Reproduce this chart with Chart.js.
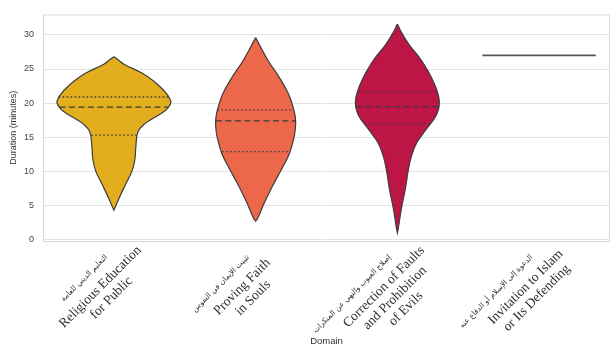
<!DOCTYPE html>
<html>
<head>
<meta charset="utf-8">
<script src="https://cdn.jsdelivr.net/npm/chart.js@4.4.1/dist/chart.umd.min.js"></script>
<style>
  html, body { margin: 0; padding: 0; background: #fff; }
</style>
</head>
<body>
<canvas id="chart" width="611" height="347"></canvas>
<script>
// categories (English lines + Arabic title above them)
const englishLines = [
  ['Religious Education', 'for Public'],
  ['Proving Faith', 'in Souls'],
  ['Correction of Faults', 'and Prohibition', 'of Evils'],
  ['Invitation to Islam', 'or Its Defending']
];
const arabicLabels = [
  'التعليم الديني للعامة',
  'تثبيت الإيمان في النفوس',
  'إصلاح العيوب والنهي عن المنكرات',
  'الدعوة إلى الإسلام أو الدفاع عنه'
];
const yTicks = [0, 5, 10, 15, 20, 25, 30];

// violin outlines: duration values and half widths (category units)
const eduY = [26.8, 26.4, 25.7, 24.4, 23.2, 22.0, 21.2, 20.6, 20.1, 19.5, 18.8, 18.0, 17.0, 15.8, 13.6, 11.7, 10.0, 7.9, 6.0, 4.3];
const eduW = [0, 0.028, 0.071, 0.198, 0.282, 0.346, 0.378, 0.395, 0.402, 0.388, 0.356, 0.296, 0.219, 0.170, 0.155, 0.148, 0.127, 0.078, 0.035, 0];
const faithY = [29.6, 28.5, 26.1, 23.7, 21.3, 18.9, 17.5, 16.2, 15.1, 12.7, 10.3, 7.9, 5.5, 3.1, 2.7];
const faithW = [0, 0.028, 0.092, 0.169, 0.233, 0.271, 0.282, 0.280, 0.272, 0.240, 0.183, 0.120, 0.064, 0.014, 0];
const faultsY = [31.6, 30.4, 28.5, 26.5, 24.6, 22.7, 21.3, 20.2, 19.1, 17.9, 16.0, 14.1, 12.2, 10.3, 7.4, 4.5, 1.7, 1.0];
const faultsW = [0, 0.028, 0.085, 0.162, 0.219, 0.264, 0.287, 0.296, 0.290, 0.266, 0.198, 0.134, 0.099, 0.078, 0.056, 0.028, 0.007, 0];
const inviteValue = 27.0;
const inviteW = 0.4;

// quartiles (q1, median, q3) and the violin half width at each
const eduQ = [15.3, 19.4, 20.9];
const eduQW = [0.160, 0.384, 0.390];
const faithQ = [12.9, 17.4, 19.0];
const faithQW = [0.237, 0.280, 0.270];
const faultsQ = [17.0, 19.5, 21.7];
const faultsQW = [0.233, 0.291, 0.279];

const colors = ['#e2ae1e', '#ed684a', '#bd1646'];
const edge = '#3d3d3d';

function outline(i, ys, ws) {
  const right = ys.map((y, k) => ({ x: i + ws[k], y: y }));
  const left = ys.map((y, k) => ({ x: i - ws[k], y: y })).reverse();
  return right.concat(left);
}

function violin(i, ys, ws) {
  return {
    data: outline(i, ys, ws),
    backgroundColor: colors[i],
    borderColor: edge,
    borderWidth: 1.2,
    fill: 'shape',
    tension: 0.4,
    pointRadius: 0,
    order: 2
  };
}

function quartileLines(i, qs, qws) {
  return qs.map((q, k) => ({
    data: [{ x: i - qws[k], y: q }, { x: i + qws[k], y: q }],
    borderColor: '#3a3a3a',
    borderWidth: 1.3,
    borderDash: k === 1 ? [6, 3.5] : [1.6, 2.4],
    pointRadius: 0,
    fill: false,
    order: 1
  }));
}

const datasets = [
  violin(0, eduY, eduW),
  violin(1, faithY, faithW),
  violin(2, faultsY, faultsW),
  ...quartileLines(0, eduQ, eduQW),
  ...quartileLines(1, faithQ, faithQW),
  ...quartileLines(2, faultsQ, faultsQW),
  {
    data: [{ x: 3 - inviteW, y: inviteValue }, { x: 3 + inviteW, y: inviteValue }],
    borderColor: '#555',
    borderWidth: 1.6,
    pointRadius: 0,
    fill: false,
    order: 1
  }
];

// light frame round the plot
const frame = {
  id: 'frame',
  beforeDatasetsDraw(chart) {
    const { ctx, chartArea: a } = chart;
    ctx.save();
    ctx.strokeStyle = '#d8d8d8';
    ctx.lineWidth = 1;
    ctx.strokeRect(a.left + 0.5, a.top + 0.5, a.right - a.left - 1, a.bottom - a.top);
    ctx.restore();
  }
};

// rotated two-language tick labels
const xLabels = {
  id: 'xLabels',
  afterDraw(chart) {
    const { ctx } = chart;
    const xs = chart.scales.x;
    const base = chart.chartArea.bottom;
    englishLines.forEach((lines, i) => {
      const px = xs.getPixelForValue(i);
      ctx.save();
      ctx.translate(px, base);
      ctx.rotate(-Math.PI / 4);
      ctx.fillStyle = '#2e2e2e';
      ctx.textBaseline = 'middle';
      ctx.font = '7.5px "DejaVu Sans"';
      ctx.textAlign = 'right';
      ctx.fillText(arabicLabels[i], -16, 5.5);
      ctx.font = '13.5px "Liberation Serif"';
      ctx.textAlign = 'center';
      lines.forEach((l, j) => ctx.fillText(l, -42, 23 + j * 15.5));
      ctx.restore();
    });
  }
};

new Chart(document.getElementById('chart'), {
  type: 'line',
  data: { datasets: datasets },
  plugins: [frame, xLabels],
  options: {
    responsive: false,
    devicePixelRatio: 1,
    animation: false,
    layout: { padding: { top: 10, right: 1, left: 0, bottom: 0 } },
    plugins: { legend: { display: false }, tooltip: { enabled: false } },
    scales: {
      x: {
        type: 'linear',
        min: -0.5,
        max: 3.5,
        grid: { display: false },
        border: { display: false },
        ticks: { display: false },
        afterFit(s) { s.height = 106; },
        title: {
          display: true,
          text: 'Domain',
          color: '#333',
          font: { family: 'Liberation Sans', size: 9.5 },
          padding: { top: 0, bottom: 0 }
        }
      },
      y: {
        min: -0.2,
        max: 33,
        afterBuildTicks(s) { s.ticks = yTicks.map(v => ({ value: v })); },
        grid: { color: '#e4e4e4', lineWidth: 1, drawTicks: false },
        border: { display: false },
        ticks: { padding: 9, color: '#444', font: { family: 'Liberation Sans', size: 9 } },
        afterFit(s) { s.width = 43; },
        title: {
          display: true,
          text: 'Duration (minutes)',
          color: '#333',
          font: { family: 'Liberation Sans', size: 9 },
          padding: { top: 8.5, bottom: 0 }
        }
      }
    }
  }
});
</script>
</body>
</html>
